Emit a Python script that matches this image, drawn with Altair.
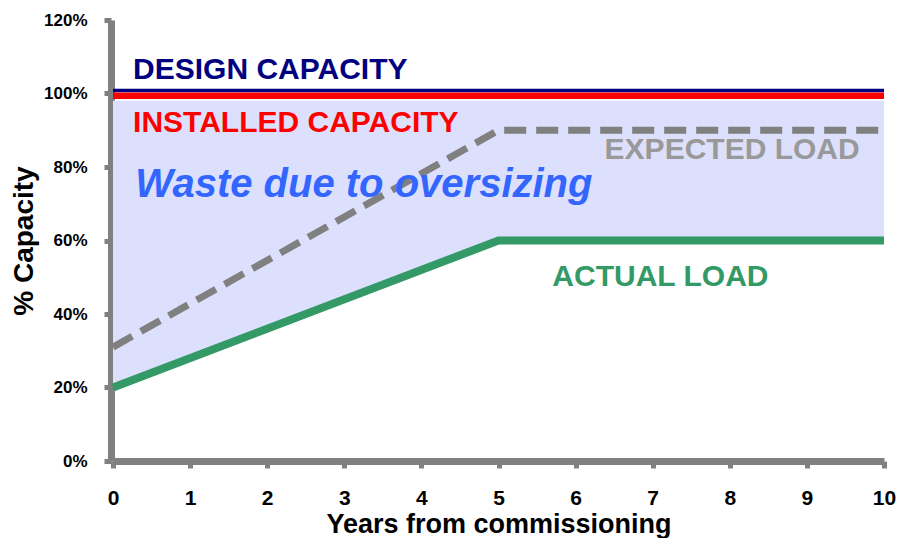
import altair as alt
import pandas as pd

# ---- data ----
years = [0, 5, 10]
actual_load = [0.20, 0.60, 0.60]
expected_load = [0.31, 0.90, 0.90]
installed_capacity = 0.994
design_capacity = 1.008
waste_top = 0.98

x_ticks = list(range(0, 11))
y_ticks = [0, 0.2, 0.4, 0.6, 0.8, 1.0, 1.2]

label_text = ["DESIGN CAPACITY", "INSTALLED CAPACITY", "EXPECTED LOAD",
              "ACTUAL LOAD"]
label_x = [0.26, 0.26, 8.03, 7.1]
label_y = [1.064, 0.92, 0.846, 0.50]
label_align = ["left", "left", "center", "center"]
label_color = ["#000080", "#FF0000", "#999999", "#339966"]

waste_text = "Waste due to oversizing"
waste_x = 0.29
waste_y = 0.751

FONT = "Liberation Sans"

df = pd.DataFrame({
    "year": years,
    "actual": actual_load,
    "expected": expected_load,
    "top": [waste_top] * len(years),
})
cap_df = pd.DataFrame({
    "x0": [years[0], years[0]],
    "x1": [years[-1], years[-1]],
    "y": [design_capacity, installed_capacity],
    "kind": ["design", "installed"],
})
lab_df = pd.DataFrame({"text": label_text, "x": label_x, "y": label_y,
                       "align": label_align, "color": label_color})

xscale = alt.Scale(domain=[0, 10], nice=False, zero=False)
yscale = alt.Scale(domain=[0, 1.2], nice=False)

x_enc = alt.X("year:Q", scale=xscale, title="Years from commissioning",
              axis=alt.Axis(values=x_ticks, format="d", grid=False,
                            labelFlush=False))
y_enc = alt.Y("actual:Q", scale=yscale, title="% Capacity",
              axis=alt.Axis(values=y_ticks, format=".0%", grid=False,
                            offset=2, labelPadding=17, titlePadding=5,
                            labelFlush=False))

base = alt.Chart(df)

area = base.mark_area(color="#dde0fc", opacity=1).encode(
    x=x_enc, y=y_enc, y2=alt.Y2("top:Q")
)

design = alt.Chart(cap_df).transform_filter("datum.kind == 'design'").mark_rule(
    color="#000080", strokeWidth=3.5
).encode(x=alt.X("x0:Q", scale=xscale), x2="x1:Q", y=alt.Y("y:Q", scale=yscale))

installed = alt.Chart(cap_df).transform_filter("datum.kind == 'installed'").mark_rule(
    color="#FF0000", strokeWidth=6.5
).encode(x=alt.X("x0:Q", scale=xscale), x2="x1:Q", y=alt.Y("y:Q", scale=yscale))

expected = base.mark_line(color="#808080", strokeWidth=7,
                          strokeDash=[22, 10]).encode(
    x=alt.X("year:Q", scale=xscale), y=alt.Y("expected:Q", scale=yscale)
)

actual = base.mark_line(color="#339966", strokeWidth=8).encode(
    x=alt.X("year:Q", scale=xscale), y=alt.Y("actual:Q", scale=yscale)
)

labels_left = alt.Chart(lab_df).transform_filter("datum.align == 'left'").mark_text(
    font=FONT, fontSize=30, fontWeight="bold", align="left", baseline="middle"
).encode(
    x=alt.X("x:Q", scale=xscale), y=alt.Y("y:Q", scale=yscale), text="text:N",
    color=alt.Color("color:N", scale=None)
)
labels_center = alt.Chart(lab_df).transform_filter("datum.align == 'center'").mark_text(
    font=FONT, fontSize=30, fontWeight="bold", align="center", baseline="middle"
).encode(
    x=alt.X("x:Q", scale=xscale), y=alt.Y("y:Q", scale=yscale), text="text:N",
    color=alt.Color("color:N", scale=None)
)

waste = alt.Chart(pd.DataFrame({"text": [waste_text], "x": [waste_x],
                                "y": [waste_y]})).mark_text(
    font=FONT, fontSize=40, fontWeight="bold", fontStyle="italic",
    align="left", baseline="middle", color="#3366FF"
).encode(x=alt.X("x:Q", scale=xscale), y=alt.Y("y:Q", scale=yscale),
         text="text:N")

chart = alt.layer(
    area, design, installed, expected, actual, labels_left, labels_center, waste
).properties(
    width=771, height=441,
    autosize=alt.AutoSizeParams(type="none"),
    padding={"left": 105, "top": 12, "right": 12, "bottom": 77},
).configure_view(stroke=None).configure_axis(
    domainColor="#808080", domainWidth=7, tickColor="#808080", tickWidth=5,
    tickSize=7, labelFont=FONT, labelFontWeight="bold", labelColor="#000000",
    titleFont=FONT, titleFontWeight="bold", titleColor="#000000",
).configure_axisX(
    labelFontSize=21, labelPadding=19, titleFontSize=27, titlePadding=3,
).configure_axisY(
    labelFontSize=17, titleFontSize=28,
)

chart.save("out.html", embed_options={"renderer": "svg", "actions": False})
